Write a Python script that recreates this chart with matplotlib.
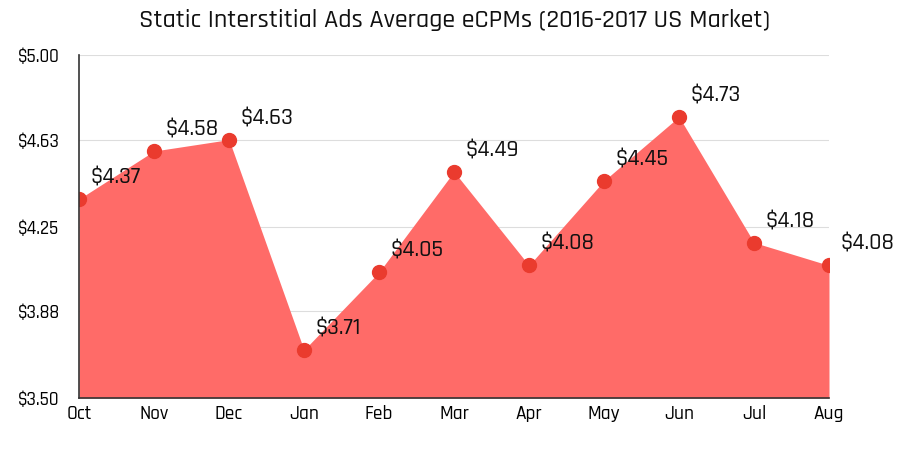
import matplotlib
matplotlib.use("Agg")
import matplotlib.pyplot as plt
from matplotlib import font_manager

names = {f.name for f in font_manager.fontManager.ttflist}
fam = next((n for n in ["Rajdhani", "Saira Semi Condensed", "Barlow Semi Condensed", "Roboto Condensed", "Roboto"] if n in names), "DejaVu Sans")
plt.rcParams['font.family'] = [fam, 'DejaVu Sans']
plt.rcParams['font.weight'] = 500

months = ["Oct", "Nov", "Dec", "Jan", "Feb", "Mar", "Apr", "May", "Jun", "Jul", "Aug"]
values = [4.37, 4.58, 4.63, 3.71, 4.05, 4.49, 4.08, 4.45, 4.73, 4.18, 4.08]
yticks = [3.50, 3.88, 4.25, 4.63, 5.00]
title = "Static Interstitial Ads Average eCPMs (2016-2017 US Market)"

fig = plt.figure(figsize=(9.16, 4.54), dpi=100)
ax = fig.add_axes([79/916, 1-398/454, (829-79)/916, (398-55)/454])
x = list(range(len(months)))
ax.fill_between(x, 3.5, values, color="#ff6b68", linewidth=0, zorder=2)
ax.plot(x, values, linestyle="none", marker="o", markersize=10, color="#ea3b2e", zorder=3)
for xi, v in zip(x, values):
    ax.annotate(f"${v:.2f}", (xi, v), xytext=(8, 9), textcoords="offset points",
                fontsize=17, color="#111111", ha="left", va="bottom", zorder=4)
ax.set_xlim(0, len(months)-1)
ax.set_ylim(3.5, 5.0)
ax.set_yticks(yticks)
ax.set_yticklabels([f"${t:.2f}" for t in yticks], fontsize=13.5)
ax.set_xticks(x)
ax.set_xticklabels(months, fontsize=14)
ax.tick_params(length=0)
ax.tick_params(axis="x", pad=5)
ax.tick_params(axis="y", pad=14)
ax.grid(axis="y", color="#dddddd", linewidth=0.8, zorder=0)
for s in ["top", "right"]:
    ax.spines[s].set_visible(False)
for s in ["left", "bottom"]:
    ax.spines[s].set_color("#333333")
    ax.spines[s].set_linewidth(1.2)
    ax.spines[s].set_zorder(5)
ax.set_axisbelow(True)
fig.text(455/916, 1-20/454, title, ha="center", va="center", fontsize=18.8, color="#111111")
fig.savefig("out.png", dpi=100)
